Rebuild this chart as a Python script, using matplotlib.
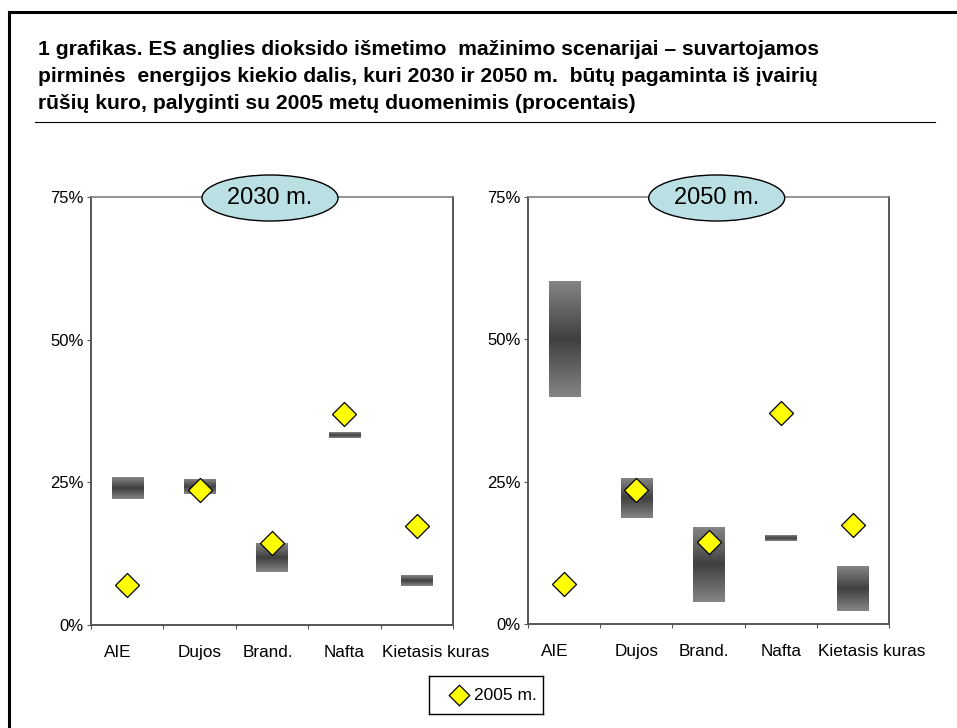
import numpy as np
import matplotlib
matplotlib.use("Agg")
import matplotlib.pyplot as plt
from matplotlib.patches import Ellipse
from matplotlib.colors import LinearSegmentedColormap
from matplotlib.lines import Line2D

plt.rcParams['font.family'] = ['Liberation Sans', 'DejaVu Sans']

categories = ["AIE", "Dujos", "Brand.", "Nafta", "Kietasis kuras"]
range_2030_low = [22.0, 23.0, 9.3, 32.8, 6.9]
range_2030_high = [25.7, 25.6, 14.3, 33.7, 8.75]
range_2050_low = [39.9, 18.7, 3.9, 14.6, 2.2]
range_2050_high = [60.2, 25.6, 17.0, 15.6, 10.0]
values_2005 = [7.0, 23.6, 14.4, 37.0, 17.4]
yticks = [0, 25, 50, 75]
ytick_labels = ["0%", "25%", "50%", "75%"]
panel_titles = ["2030 m.", "2050 m."]
legend_label = "2005 m."
title_lines = [
    "1 grafikas. ES anglies dioksido išmetimo  mažinimo scenarijai – suvartojamos",
    "pirminės  energijos kiekio dalis, kuri 2030 ir 2050 m.  būtų pagaminta iš įvairių",
    "rūšių kuro, palyginti su 2005 metų duomenimis (procentais)",
]

W, H = 957, 728
fig = plt.figure(figsize=(W / 100, H / 100), dpi=100)

# outer frame (top and left visible)
fig.add_artist(Line2D([9 / W, 1.0], [1 - 12 / H, 1 - 12 / H], color="black", lw=2.2))
fig.add_artist(Line2D([9 / W, 9 / W], [0, 1 - 12 / H], color="black", lw=2.2))

# title
baselines = [55, 82, 109]
for line, yb in zip(title_lines, baselines):
    fig.text(38 / W, 1 - yb / H, line, fontsize=15.2, fontweight="bold",
             ha="left", va="baseline", color="black")
fig.add_artist(Line2D([35 / W, 935 / W], [1 - 122 / H, 1 - 122 / H], color="black", lw=0.8))

cmap = LinearSegmentedColormap.from_list("grad", ["#858585", "#404040", "#858585"])
grad = np.linspace(0, 1, 256).reshape(-1, 1)

axes_rects = [
    [91 / W, 1 - 625 / H, (453 - 91) / W, (625 - 197) / H],
    [528 / W, 1 - 624 / H, (889 - 528) / W, (624 - 197) / H],
]
lows = [range_2030_low, range_2050_low]
highs = [range_2030_high, range_2050_high]
label_shift_pt = [-7, 0, -3, 0, 13.5]

for i, rect in enumerate(axes_rects):
    ax = fig.add_axes(rect)
    n = len(categories)
    x = np.arange(n) + 0.5
    bw = 0.43
    for xi, lo, hi in zip(x, lows[i], highs[i]):
        ax.imshow(grad, extent=[xi - bw / 2, xi + bw / 2, lo, hi], aspect="auto",
                  cmap=cmap, vmin=0, vmax=1, zorder=2, interpolation="bilinear")
    ax.scatter(x, values_2005, marker="D", s=150, facecolor="#FFFF00",
               edgecolor="black", linewidth=0.9, zorder=3)
    ax.set_xlim(0, n)
    ax.set_ylim(0, 75)
    ax.set_xticks(np.arange(n + 1))
    ax.set_xticklabels([])
    for xi, cat, sh in zip(x, categories, label_shift_pt):
        ax.annotate(cat, xy=(xi, 0), xycoords=("data", "axes fraction"),
                    xytext=(sh, -14.5), textcoords="offset points",
                    ha="center", va="top", fontsize=12.3, annotation_clip=False)
    ax.tick_params(axis="x", which="major", length=3, color="#555555", direction="out")
    ax.set_yticks(yticks)
    ax.set_yticklabels(ytick_labels, fontsize=12)
    ax.tick_params(axis="y", length=3, color="#555555", direction="out", pad=2.5)
    for s in ["left", "bottom", "right"]:
        ax.spines[s].set_color("#555555")
        ax.spines[s].set_linewidth(1.4)
    ax.spines["top"].set_color("#808080")
    ax.spines["top"].set_linewidth(1.2)
    # ellipse label
    cx = [270, 716.7][i]
    ell = Ellipse((cx / W, 1 - 198 / H), 136 / W, 46 / H, transform=fig.transFigure,
                  facecolor="#BBE0E3", edgecolor="black", lw=1.0, zorder=10)
    fig.add_artist(ell)
    fig.text(cx / W, 1 - 198 / H, panel_titles[i], fontsize=17, ha="center",
             va="center", zorder=11)

# legend
leg_ax = fig.add_axes([429 / W, 1 - 714 / H, (543 - 429) / W, (714 - 676) / H])
leg_ax.set_xlim(0, 1)
leg_ax.set_ylim(0, 1)
leg_ax.set_xticks([])
leg_ax.set_yticks([])
for s in leg_ax.spines.values():
    s.set_color("black")
    s.set_linewidth(1.0)
leg_ax.scatter([(459 - 429) / (543 - 429)], [0.5], marker="D", s=110, facecolor="#FFFF00",
               edgecolor="black", linewidth=0.9)
leg_ax.text((474 - 429) / (543 - 429), 0.5, legend_label, fontsize=12.5, ha="left", va="center")

fig.savefig("out.png", dpi=100)
